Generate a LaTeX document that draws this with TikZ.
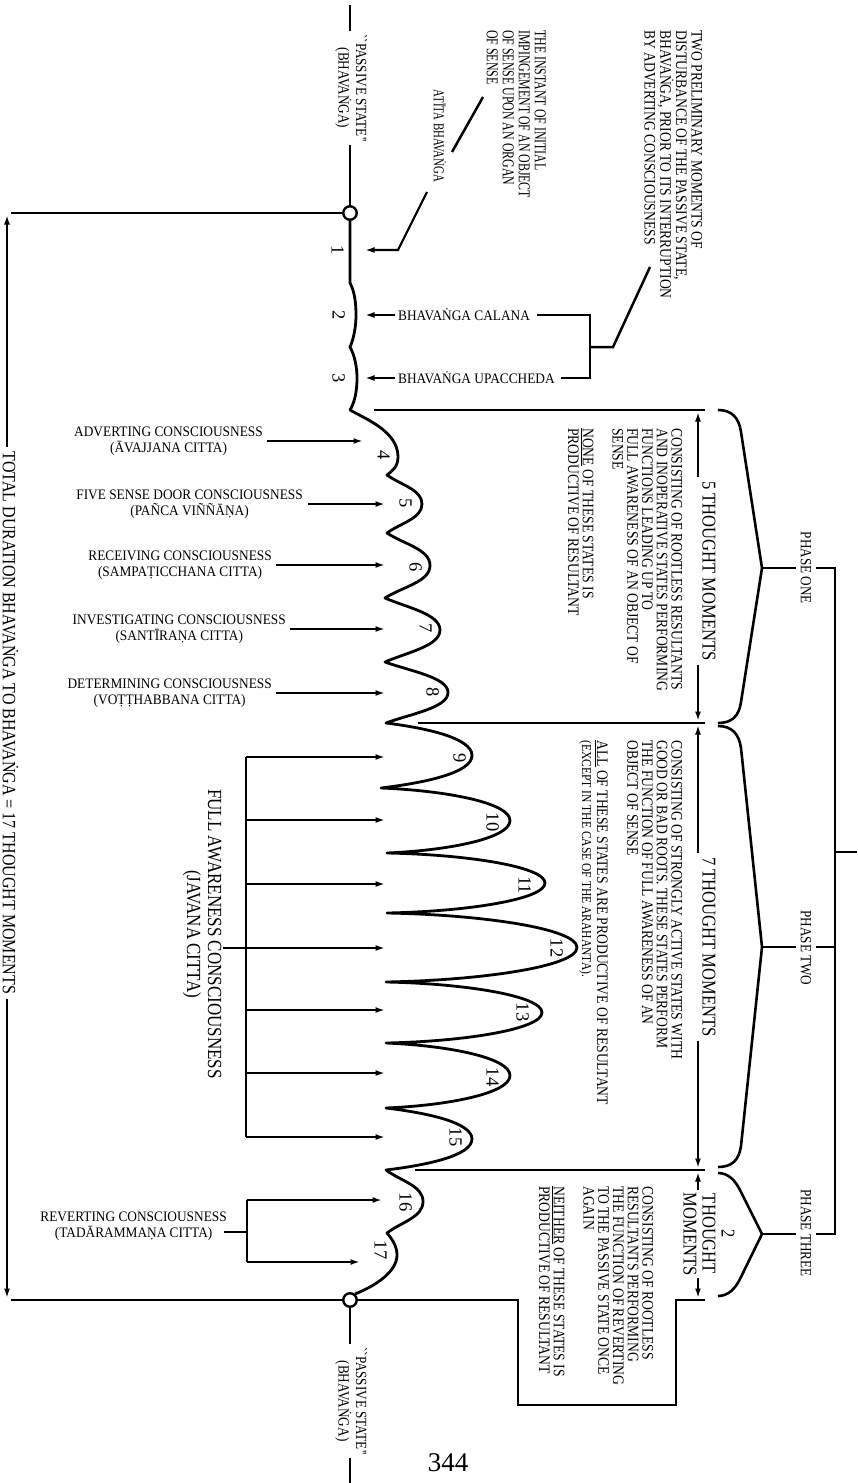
\documentclass[tikz,border=0pt]{standalone}
\usepackage{fontspec}
\setmainfont{Liberation Serif}
\newfontfamily\cond[FakeStretch=0.85]{Liberation Serif}
\newfontfamily\vcond[FakeStretch=0.72]{Liberation Serif}
\newfontfamily\semi[FakeStretch=0.92]{Liberation Serif}
\usetikzlibrary{arrows.meta}
\begin{document}
\begin{tikzpicture}[x=1pt,y=-1pt,
  ln/.style={line width=2.5pt},
  wave/.style={line width=2.8pt,line join=round},
  arr/.style={line width=2.2pt,-{Latex[length=9.5pt,width=6pt]}},
  rot/.style={rotate=-90,inner sep=0pt},
  up/.style={font=\semi\fontsize{14.5}{16.5}\selectfont,align=center,inner sep=0pt},
  desc/.style={rot,font=\cond\fontsize{16}{14.8}\selectfont,align=left,anchor=north west},
  num/.style={rot,font=\fontsize{18.5}{18}\selectfont,anchor=north},
  tm/.style={rot,font=\cond\fontsize{19.5}{19}\selectfont,align=center,inner sep=4pt},
  ph/.style={rot,font=\cond\fontsize{15.5}{16}\selectfont,inner sep=5pt},
  ps/.style={rot,font=\cond\fontsize{15.5}{17.5}\selectfont,align=center,inner sep=3pt},
  circ/.style={circle,draw,line width=2.4pt,fill=white,minimum size=13.5pt,inner sep=0pt},
  brace/.style={line width=2.6pt,line join=round},
]
\useasboundingbox (0,0) rectangle (857,1483);

% ---------- main axis ----------
\coordinate (top) at (350,5);
\coordinate (bot) at (350,1483);
\node[ps] (ps1) at (351,88) {``PASSIVE STATE''\\(BHAVAṄGA)};
\node[ps] (ps2) at (351,1401) {``PASSIVE STATE''\\(BHAVAṄGA)};
\node[circ] (c1) at (350,213) {};
\node[circ] (c2) at (350,1300) {};
\draw[ln] (top) -- (top |- ps1.west);
\draw[ln] (top |- ps1.east) -- (c1.north);
\draw[ln] (c2.south) -- (bot |- ps2.west);
\draw[ln] (bot |- ps2.east) -- (bot);

% wave
\draw[wave] (c1.south) -- (350,283)
  .. controls (355,292) and (356,305) .. (356,315)
  .. controls (356,326) and (354,338) .. (350,347)
  .. controls (355,356) and (357,368) .. (357,378)
  .. controls (357,390) and (355,402) .. (350,410)
  .. controls (368,420) and (398,432) .. (398,457)
  .. controls (398,467) and (392,471) .. (387,475)
  \foreach \ax/\ay/\px/\bx/\by/\ka/\kb/\kc in {
    387/475/422/387/533/0.4/0.35/0.5,
    387/533/430/385/598/0.4/0.35/0.5,
    385/598/440/385/662/0.4/0.3/0.5,
    385/662/448/386/723/0.4/0.3/0.5,
    386/723/472/381/788/0.45/0.15/0.55,
    381/788/510/387/853/0.5/0.08/0.55,
    387/853/545/387/913/0.5/0.05/0.55,
    387/913/577/386/982/0.5/0.05/0.55,
    386/982/542/386/1043/0.5/0.05/0.55,
    386/1043/510/386/1108/0.5/0.08/0.55,
    386/1108/472/386/1170/0.45/0.15/0.55,
    386/1170/423/387/1233/0.4/0.35/0.5}{
   .. controls ({\ax+\ka*(\px-\ax)},{\ay+\kb*(\by-\ay)/2}) and ({\px},{(\ay+\by)/2-\kc*(\by-\ay)/2}) .. ({\px},{(\ay+\by)/2})
   .. controls ({\px},{(\ay+\by)/2+\kc*(\by-\ay)/2}) and ({\bx+\ka*(\px-\bx)},{\by-\kb*(\by-\ay)/2}) .. (\bx,\by)
  }
  .. controls (393,1240) and (397,1247) .. (397,1255)
  .. controls (397,1272) and (375,1286) .. (c2.50);

% moment numbers
\foreach \n/\xx/\yy in {1/344/250,2/345/315,3/345/378,4/390/455,5/412/503,6/422/567,
  7/432/628,8/439/692,9/466/758,10/499/822,11/531/885,12/563/948,13/529/1012,
  14/499/1077,15/462/1137,16/412/1202,17/387/1250}
  \node[num] (n\n) at (\xx,\yy) {\n};

% ---------- left total-duration arrow ----------
\node[rot,font=\cond\fontsize{18.8}{19}\selectfont,inner xsep=5pt,inner ysep=0pt,anchor=south] (tot) at (2.5,723)
  {TOTAL DURATION BHAVAṄGA TO BHAVAṄGA = 17 THOUGHT MOMENTS};
\coordinate (ltop) at (7,215);
\coordinate (lbot) at (7,1298);
\draw[arr] (tot.west -| ltop) -- (ltop);
\draw[arr] (tot.east -| lbot) -- (lbot);
\draw[ln] (11,213) -- (c1.west);
\draw[ln] (11,1300) -- (c2.west);
\draw[ln] (c2.east) -- (518,1300) -- (518,1405) -- (676,1405) -- (676,1300) -- (705,1300);

% ---------- top annotations ----------
\node[rot,font=\vcond\fontsize{15}{15}\selectfont] (atita) at (440,136) {ATĪTA BHAVAṄGA};
\node[rot,font=\vcond\fontsize{16.5}{16}\selectfont,align=left,anchor=north west] (inst) at (546,30)
  {THE INSTANT OF INITIAL\\IMPINGEMENT OF AN OBJECT\\OF SENSE UPON AN ORGAN\\OF SENSE};
\node[rot,font=\cond\fontsize{16}{15.7}\selectfont,align=left,anchor=north west] (two) at (702.5,30)
  {TWO PRELIMINARY MOMENTS OF\\DISTURBANCE OF THE PASSIVE STATE,\\BHAVAṄGA, PRIOR TO ITS INTERRUPTION\\BY ADVERTING CONSCIOUSNESS};
\draw[arr] (427,192) -- (398,250) -- (365,250);
\draw[ln] (452,152) -- (483,97);
\draw[ln] (650,267) -- (613,347) -- (590,347);

\node[up,anchor=west] (cal) at (398,315) {BHAVAṄGA CALANA};
\node[up,anchor=west] (upa) at (398,378) {BHAVAṄGA UPACCHEDA};
\draw[arr] ([xshift=-3pt]cal.west) -- (365,315);
\draw[arr] ([xshift=-3pt]upa.west) -- (365,378);
\draw[ln] ([xshift=7pt]cal.east) -- (590,315) -- (590,378) -- ([xshift=6pt]upa.east);

% ---------- left labels ----------
\node[up,anchor=east] (adv) at (263,441) {ADVERTING CONSCIOUSNESS\\(ĀVAJJANA CITTA)};
\node[up,anchor=east] (five) at (303,504) {FIVE SENSE DOOR CONSCIOUSNESS\\(PAÑCA VIÑÑĀṆA)};
\node[up,anchor=east] (rec) at (272,565) {RECEIVING CONSCIOUSNESS\\(SAMPAṬICCHANA CITTA)};
\node[up,anchor=east] (inv) at (286,629) {INVESTIGATING CONSCIOUSNESS\\(SANTĪRAṆA CITTA)};
\node[up,anchor=east] (det) at (272,693) {DETERMINING CONSCIOUSNESS\\(VOṬṬHABBANA CITTA)};
\draw[arr] ([xshift=4pt]adv.east) -- (363,441);
\draw[arr] ([xshift=5pt]five.east) -- (385,504);
\draw[arr] ([xshift=4pt]rec.east) -- (385,565);
\draw[arr] ([xshift=4pt]inv.east) -- (385,629);
\draw[arr] ([xshift=4pt]det.east) -- (385,693);

% javana
\node[rot,font=\cond\fontsize{20}{21}\selectfont,align=center,inner sep=3pt] (jav) at (202,934)
  {FULL AWARENESS CONSCIOUSNESS\\(JAVANA CITTA)};
\draw[ln] (246,757) -- (246,1137);
\draw[ln] (223,948) -- (246,948);
\foreach \yy in {757,820,884,948,1010,1073,1137}
  \draw[arr] (246,\yy) -- (385,\yy);

% reverting
\node[up,anchor=east] (rev) at (227,1226) {REVERTING CONSCIOUSNESS\\(TADĀRAMMAṆA CITTA)};
\draw[ln] (247,1200) -- (247,1262);
\draw[ln] (224,1232) -- (247,1232);
\draw[arr] (247,1200) -- (382,1200);
\draw[arr] (247,1262) -- (360,1262);

% ---------- phase division lines ----------
\draw[ln] (374,410) -- (705,410);
\draw[ln] (418,723) -- (705,723);
\draw[ln] (415,1170) -- (705,1170);

\coordinate (ax) at (698,0);
\node[tm] (tm1) at (709,571) {5 THOUGHT MOMENTS};
\node[tm] (tm2) at (709,947) {7 THOUGHT MOMENTS};
\node[tm,inner sep=2pt] (tm3) at (709,1234) {2\\THOUGHT\\MOMENTS};
\draw[arr] (tm1.west -| ax) -- (698,412);
\draw[arr] (tm1.east -| ax) -- (698,721);
\draw[arr] (tm2.west -| ax) -- (698,725);
\draw[arr] (tm2.east -| ax) -- (698,1168);
\draw[arr] (tm3.west -| ax) -- (698,1172);
\draw[arr] (tm3.east -| ax) -- (698,1298);

% descriptions
\node[desc] (d1) at (682.5,428)
  {CONSISTING OF ROOTLESS RESULTANTS\\AND INOPERATIVE STATES PERFORMING\\FUNCTIONS LEADING UP TO\\FULL AWARENESS OF AN OBJECT OF\\SENSE\\[14.8pt]\underline{NONE} OF THESE STATES IS\\PRODUCTIVE OF RESULTANT};
\node[desc] (d2) at (682.5,740)
  {CONSISTING OF STRONGLY ACTIVE STATES WITH\\GOOD OR BAD ROOTS. THESE STATES PERFORM\\THE FUNCTION OF FULL AWARENESS OF AN\\OBJECT OF SENSE\\[15.5pt]\underline{ALL} OF THESE STATES ARE PRODUCTIVE OF RESULTANT\\{\fontsize{13.6}{15}\selectfont (EXCEPT IN THE CASE OF THE ARAHANTA).}};
\node[desc] (d3) at (653.5,1186)
  {CONSISTING OF ROOTLESS\\RESULTANTS PERFORMING\\THE FUNCTION OF REVERTING\\TO THE PASSIVE STATE ONCE\\AGAIN\\[14.8pt]\underline{NEITHER} OF THESE STATES IS\\PRODUCTIVE OF RESULTANT};

% braces
\draw[brace] (718,410) .. controls (732,410) and (739,418) .. (741,432) -- (762,568)
  -- (741,702) .. controls (739,716) and (732,723) .. (718,723);
\draw[brace] (718,726) .. controls (732,726) and (739,734) .. (741,748) -- (762,947)
  -- (741,1146) .. controls (739,1160) and (732,1167) .. (718,1167);
\draw[brace] (718,1173) .. controls (728,1173) and (735,1180) .. (740,1190) -- (762,1234)
  -- (740,1279) .. controls (735,1289) and (728,1296) .. (718,1296);

% phases
\node[ph] (ph1) at (806,568) {PHASE ONE};
\node[ph] (ph2) at (806,948) {PHASE TWO};
\node[ph] (ph3) at (806,1233) {PHASE THREE};
\draw[ln] (762,568) -- (ph1.south);
\draw[ln] (762,947) -- (ph2.south |- 0,947);
\draw[ln] (762,1234) -- (ph3.south |- 0,1234);
\draw[ln] (ph1.north) -- (835,568) -- (835,1234) -- (ph3.north |- 0,1234);
\draw[ln] (ph2.north |- 0,947) -- (835,947);
\draw[ln] (835,852) -- (857,852);

% page number
\node[font=\fontsize{27}{27}\selectfont,inner sep=0pt] (pg) at (448,1463) {344};
\end{tikzpicture}
\end{document}
